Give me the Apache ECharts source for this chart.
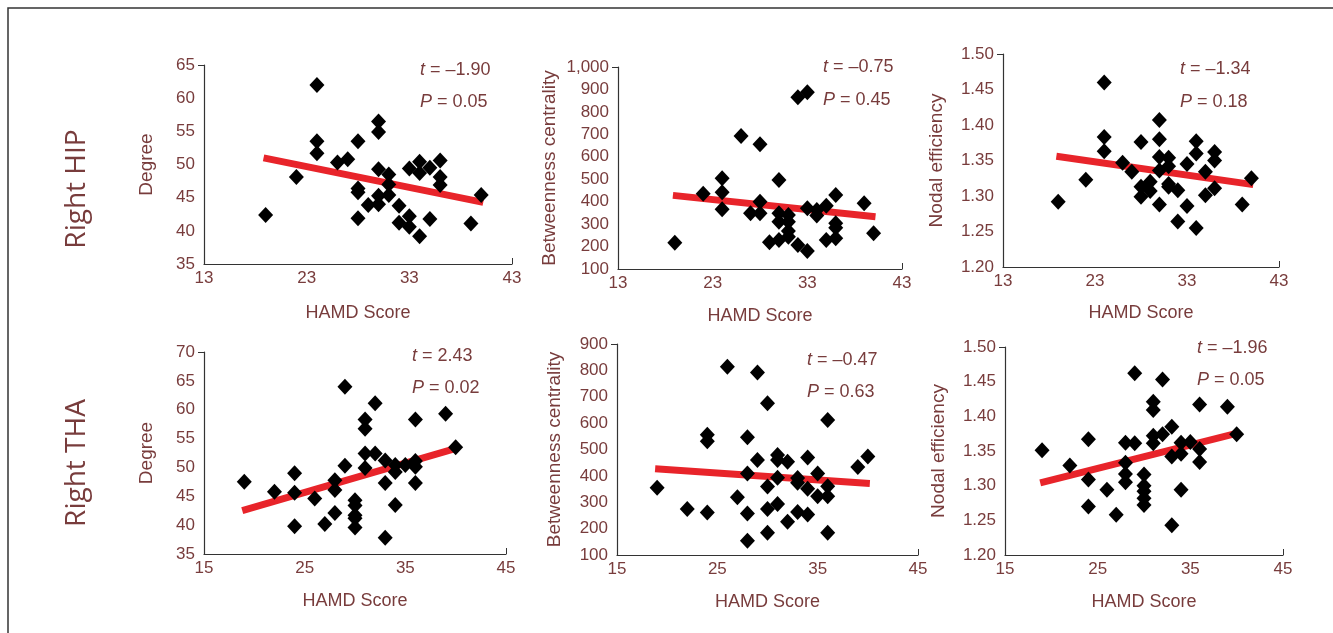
<!DOCTYPE html>
<html>
<head>
<meta charset="utf-8">
<title>HAMD Score correlations</title>
<script src="https://cdn.jsdelivr.net/npm/echarts@6/dist/echarts.min.js"></script>
<style>
    html, body { margin: 0; padding: 0; background: #fff; }
    #chart { width: 1333px; height: 633px; }
</style>
</head>
<body>
<div id="chart"></div>
<script>
// HAMD score (x) against nodal measures, right HIP (top row) and right THA (bottom row)
var hipTicks = [13, 23, 33, 43];
var thaTicks = [15, 25, 35, 45];
var fitScore = [18.8, 40.2];

var hipDegScore = [19, 22, 24, 24, 24, 26, 27, 28, 28, 28, 28, 29, 30, 30, 30, 30, 30, 31, 31, 31, 32, 32, 33, 33, 33, 34, 34, 34, 35, 35, 36, 36, 36, 39, 40];
var hipDegValue = [42.4, 48.1, 62.0, 53.5, 51.7, 50.3, 50.8, 53.5, 46.4, 45.8, 41.9, 43.9, 56.5, 54.9, 49.3, 45.3, 44.0, 48.5, 47.0, 45.4, 43.8, 41.2, 49.4, 42.2, 40.6, 50.4, 48.7, 39.2, 49.5, 41.8, 50.6, 48.1, 46.9, 41.1, 45.4];
var hipDegFit = [51.0, 44.3];

var hipBcScore = [19, 22, 24, 24, 24, 26, 27, 28, 28, 28, 29, 30, 30, 30, 30, 31, 31, 31, 31, 32, 32, 33, 33, 33, 34, 34, 35, 35, 36, 36, 36, 36, 39, 40];
var hipBcValue = [217, 435, 504, 442, 366, 693, 348, 656, 400, 348, 219, 497, 348, 311, 229, 341, 311, 269, 244, 865, 207, 888, 371, 180, 363, 338, 382, 229, 430, 304, 284, 237, 393, 259];
var hipBcFit = [428, 333];

var hipNeScore = [19, 22, 24, 24, 24, 26, 27, 28, 28, 28, 29, 29, 30, 30, 30, 30, 30, 31, 31, 31, 31, 32, 32, 33, 33, 34, 34, 34, 35, 35, 36, 36, 36, 39, 40];
var hipNeValue = [1.292, 1.323, 1.460, 1.383, 1.363, 1.347, 1.334, 1.376, 1.313, 1.299, 1.320, 1.307, 1.407, 1.380, 1.355, 1.336, 1.288, 1.354, 1.342, 1.317, 1.313, 1.308, 1.264, 1.345, 1.286, 1.377, 1.360, 1.255, 1.334, 1.301, 1.362, 1.350, 1.311, 1.288, 1.325];
var hipNeFit = [1.356, 1.316];

var thaDegScore = [19, 22, 24, 24, 24, 26, 27, 28, 28, 28, 29, 29, 30, 30, 30, 30, 30, 31, 31, 31, 31, 32, 32, 33, 33, 33, 34, 34, 34, 35, 36, 36, 36, 36, 39, 40];
var thaDegValue = [47.5, 45.8, 49.0, 45.6, 39.8, 44.6, 40.2, 47.8, 46.1, 42.1, 64.0, 50.3, 44.3, 43.4, 41.7, 41.2, 39.6, 58.3, 56.7, 52.4, 49.9, 61.1, 52.4, 51.2, 47.3, 37.8, 50.4, 49.2, 43.5, 50.4, 58.3, 51.1, 50.1, 47.3, 59.3, 53.5];
var thaDegFit = [42.5, 53.4];

var thaBcScore = [19, 22, 24, 24, 24, 26, 27, 28, 28, 28, 28, 29, 29, 30, 30, 30, 30, 31, 31, 31, 31, 32, 32, 33, 33, 33, 34, 34, 34, 35, 35, 36, 36, 36, 36, 39, 40];
var thaBcValue = [355, 274, 556, 531, 261, 814, 319, 546, 409, 257, 154, 460, 792, 675, 360, 274, 184, 479, 460, 393, 293, 454, 226, 392, 374, 263, 470, 351, 254, 409, 323, 612, 361, 323, 184, 434, 473];
var thaBcFit = [427, 371];

var thaNeScore = [19, 22, 24, 24, 24, 26, 27, 28, 28, 28, 28, 29, 29, 30, 30, 30, 30, 30, 31, 31, 31, 31, 32, 32, 33, 33, 33, 34, 34, 34, 35, 36, 36, 36, 39, 40];
var thaNeValue = [1.351, 1.329, 1.367, 1.309, 1.270, 1.294, 1.258, 1.362, 1.333, 1.317, 1.305, 1.462, 1.361, 1.316, 1.300, 1.292, 1.282, 1.272, 1.421, 1.409, 1.372, 1.361, 1.453, 1.374, 1.385, 1.342, 1.243, 1.362, 1.346, 1.294, 1.363, 1.417, 1.353, 1.334, 1.414, 1.374];
var thaNeFit = [1.304, 1.376];

var statT = ['–1.90', '–0.75', '–1.34', '2.43', '–0.47', '–1.96'];
var statP = ['0.05', '0.45', '0.18', '0.02', '0.63', '0.05'];

var TXT = '#783c3c';
var FONT = '"Liberation Sans", Arial, sans-serif';

function zip(xs, ys) {
    return xs.map(function (x, i) { return [x, ys[i]]; });
}

// one entry per panel: grid box, axis ranges, labels
var panels = [
    { box: [204, 65, 308, 199], x: hipTicks, y: [35, 65, 5, 0], name: 'Degree', gapY: 48, gapX: 40,
      pts: zip(hipDegScore, hipDegValue), fit: hipDegFit, txt: [420, 70, 102] },
    { box: [618, 67, 284, 202], x: hipTicks, y: [100, 1000, 100, 0], name: 'Betweenness centrality', gapY: 59, gapX: 38,
      pts: zip(hipBcScore, hipBcValue), fit: hipBcFit, txt: [823, 67, 100] },
    { box: [1003, 54, 276, 213], x: hipTicks, y: [1.2, 1.5, 0.05, 2], name: 'Nodal efficiency', gapY: 57, gapX: 37,
      pts: zip(hipNeScore, hipNeValue), fit: hipNeFit, txt: [1180, 69, 102] },
    { box: [204, 352, 302, 202], x: thaTicks, y: [35, 70, 5, 0], name: 'Degree', gapY: 48, gapX: 38,
      pts: zip(thaDegScore, thaDegValue), fit: thaDegFit, txt: [412, 356, 388] },
    { box: [617, 344, 301, 211], x: thaTicks, y: [100, 900, 100, 0], name: 'Betweenness centrality', gapY: 53, gapX: 38,
      pts: zip(thaBcScore, thaBcValue), fit: thaBcFit, txt: [807, 360, 392] },
    { box: [1005, 347, 278, 208], x: thaTicks, y: [1.2, 1.5, 0.05, 2], name: 'Nodal efficiency', gapY: 57, gapX: 38,
      pts: zip(thaNeScore, thaNeValue), fit: thaNeFit, txt: [1197, 348, 380] }
];

var grids = [], xAxes = [], yAxes = [], series = [];
var graphics = [
    { type: 'rect', shape: { x: 8, y: 8, width: 1400, height: 700 }, style: { fill: 'none', stroke: '#333', lineWidth: 1.5 } },
    { type: 'text', x: 77, y: 189, rotation: Math.PI / 2,
      style: { text: 'Right HIP', fill: TXT, font: '28px "Open Sans", sans-serif', textAlign: 'center', textVerticalAlign: 'middle' } },
    { type: 'text', x: 77, y: 463, rotation: Math.PI / 2,
      style: { text: 'Right THA', fill: TXT, font: '28px "Open Sans", sans-serif', textAlign: 'center', textVerticalAlign: 'middle' } }
];

panels.forEach(function (p, i) {
    grids.push({ left: p.box[0], top: p.box[1], width: p.box[2], height: p.box[3] });
    xAxes.push({
        gridIndex: i, type: 'value',
        min: p.x[0], max: p.x[p.x.length - 1],
        name: 'HAMD Score', nameLocation: 'middle', nameGap: p.gapX,
        nameTextStyle: { color: TXT, fontSize: 18, fontFamily: FONT },
        axisLine: { lineStyle: { color: '#333', width: 1.2 } },
        axisTick: { show: true, inside: true, length: 6, customValues: [p.x[p.x.length - 1]], lineStyle: { color: '#333' } },
        axisLabel: { customValues: p.x, color: TXT, fontSize: 17, fontFamily: FONT, margin: 6 },
        splitLine: { show: false }
    });
    yAxes.push({
        gridIndex: i, type: 'value',
        min: p.y[0], max: p.y[1], interval: p.y[2],
        name: p.name, nameLocation: 'middle', nameGap: p.gapY,
        nameTextStyle: { color: TXT, fontSize: 19, fontFamily: FONT },
        axisLine: { show: true, lineStyle: { color: '#333', width: 1.2 } },
        axisTick: { show: true, inside: false, length: 6, customValues: [p.y[1]], lineStyle: { color: '#333' } },
        axisLabel: {
            color: TXT, fontSize: 17, fontFamily: FONT, margin: 9,
            formatter: function (v) {
                return p.y[3] ? v.toFixed(p.y[3]) : v.toLocaleString('en-US');
            }
        },
        splitLine: { show: false }
    });
    series.push({
        type: 'line', xAxisIndex: i, yAxisIndex: i,
        data: zip(fitScore, p.fit),
        symbol: 'none', silent: true, z: 2,
        lineStyle: { color: '#e8242a', width: 7, cap: 'butt' }
    });
    series.push({
        type: 'scatter', xAxisIndex: i, yAxisIndex: i,
        data: p.pts, symbol: 'diamond', symbolSize: [15, 16], z: 3,
        itemStyle: { color: '#000', opacity: 1 }
    });
    graphics.push({
        type: 'text', x: p.txt[0], y: p.txt[1],
        style: {
            text: '{i|t} = ' + statT[i], textVerticalAlign: 'middle',
            font: '18px ' + FONT, fill: TXT,
            rich: { i: { fontStyle: 'italic', fontSize: 18, fontFamily: FONT, fill: TXT } }
        }
    });
    graphics.push({
        type: 'text', x: p.txt[0], y: p.txt[2],
        style: {
            text: '{i|P} = ' + statP[i], textVerticalAlign: 'middle',
            font: '18px ' + FONT, fill: TXT,
            rich: { i: { fontStyle: 'italic', fontSize: 18, fontFamily: FONT, fill: TXT } }
        }
    });
});

var chart = echarts.init(document.getElementById('chart'));
chart.setOption({
    backgroundColor: '#fff',
    animation: false,
    grid: grids,
    xAxis: xAxes,
    yAxis: yAxes,
    series: series,
    graphic: graphics
});
</script>
</body>
</html>
